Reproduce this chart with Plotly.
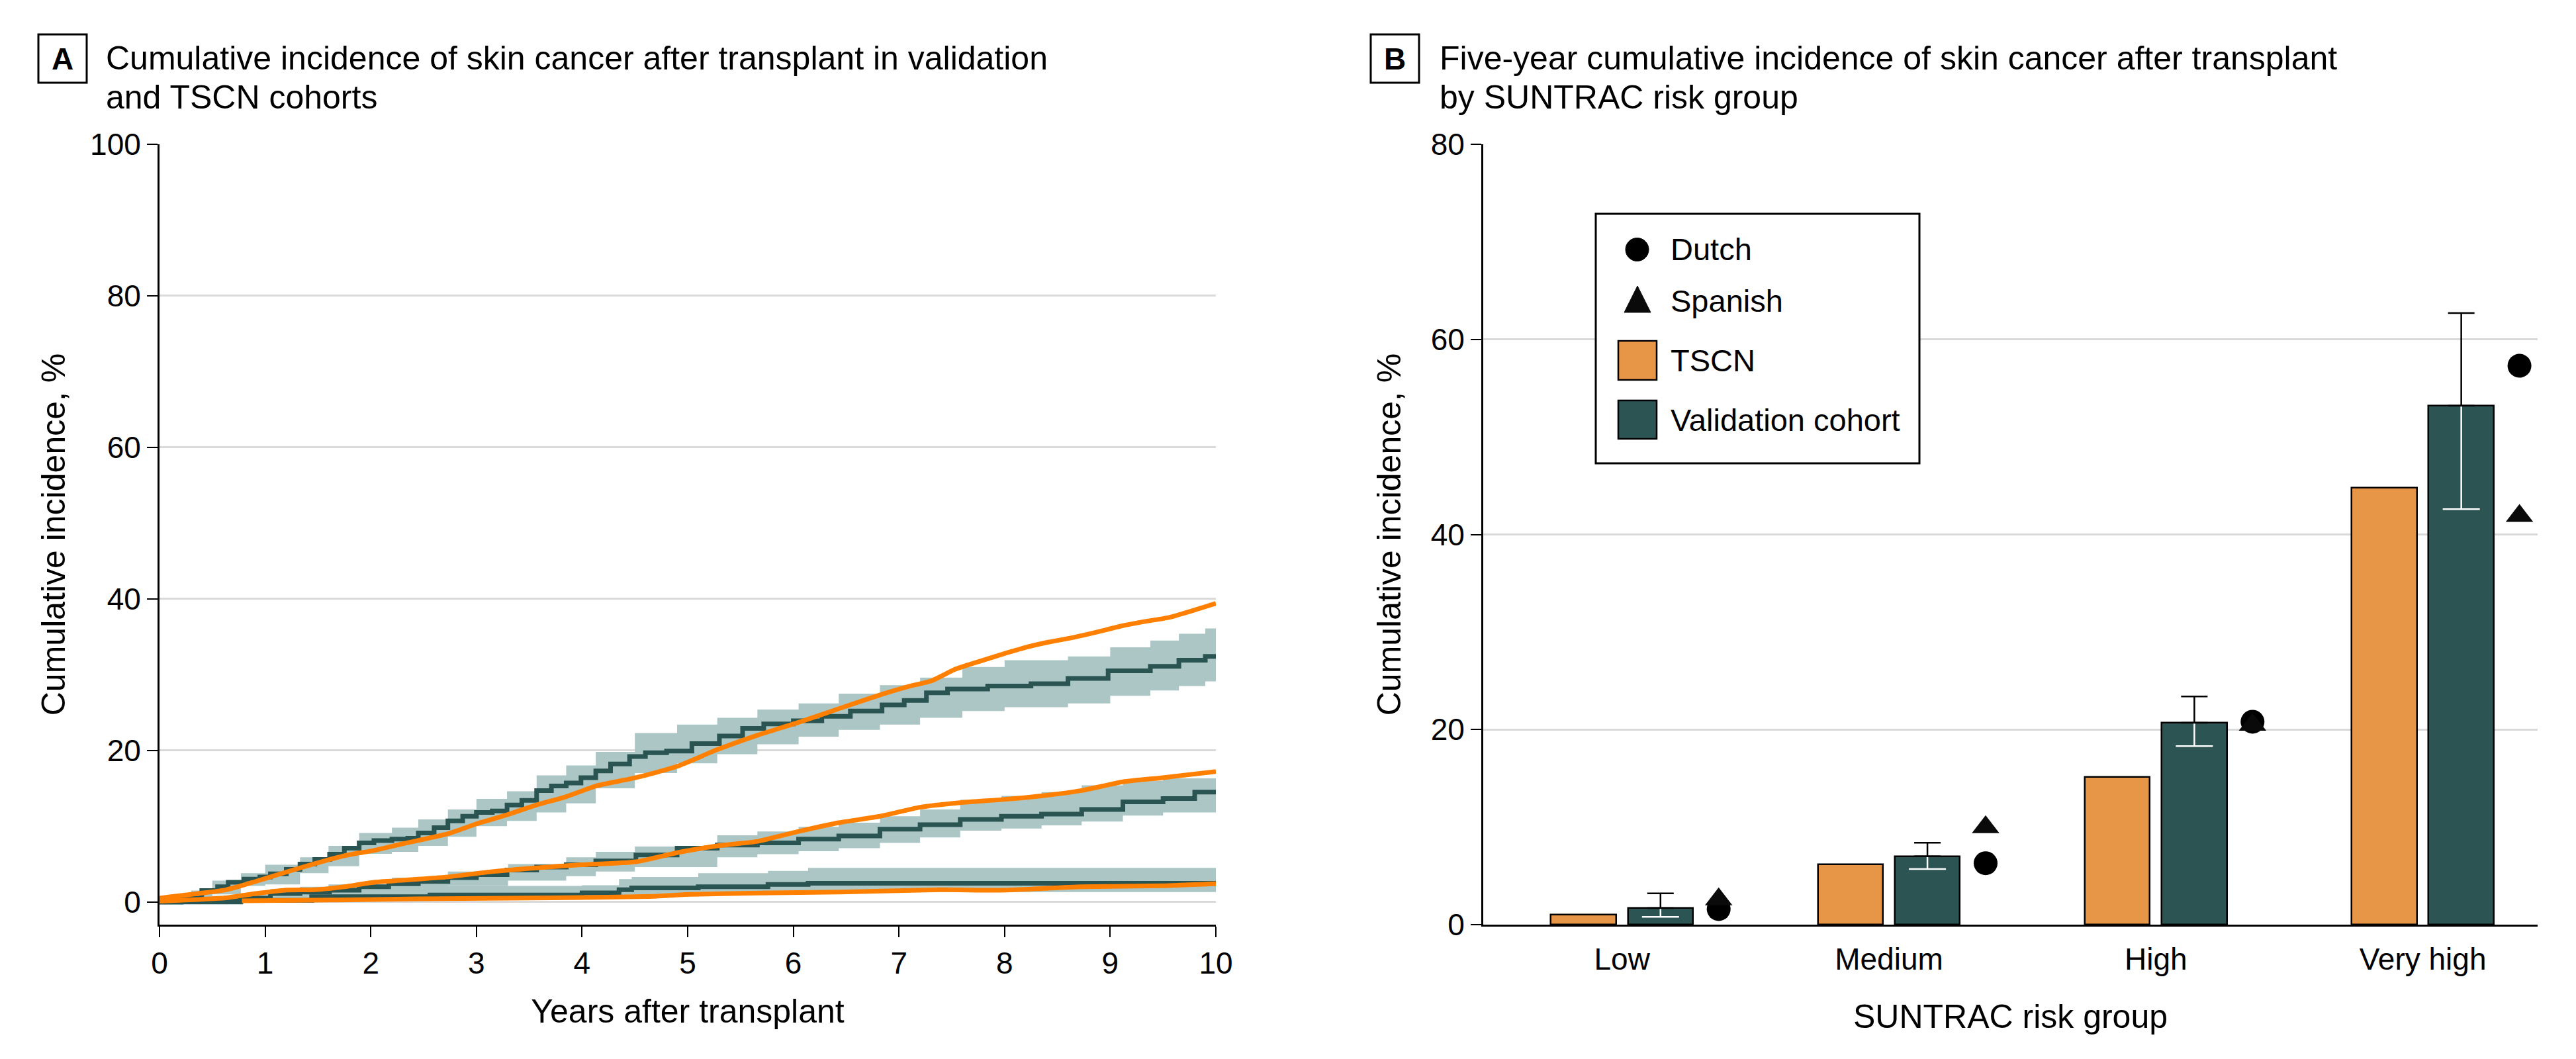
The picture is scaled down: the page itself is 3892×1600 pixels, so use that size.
import plotly.graph_objects as go

W, H = 3892, 1600
FONT = "Liberation Sans, Arial, sans-serif"

# ---------------- Panel A data (cumulative incidence, %) ----------------
# Validation cohort: upper curve (step estimate + 95% CI band)
val_top_t = [0, 0.2, 0.4, 0.55, 0.65, 0.8, 0.95, 1.05, 1.2, 1.33, 1.47, 1.61, 1.75, 1.89, 2.03, 2.2,
             2.35, 2.45, 2.6, 2.73, 2.87, 3.0, 3.15, 3.29, 3.43, 3.57, 3.71, 3.85, 3.99, 4.13, 4.27,
             4.45, 4.6, 4.8, 5.04, 5.3, 5.52, 5.72, 6.0, 6.27, 6.54, 6.84, 7.05, 7.26, 7.46, 7.84,
             8.25, 8.6, 8.98, 9.38, 9.65, 9.9, 10]
val_top_est = [0, 0.5, 1.5, 2.0, 2.6, 3.0, 3.3, 3.7, 4.3, 5.0, 5.6, 6.3, 7.1, 7.8, 8.1, 8.3,
               8.4, 9.1, 9.8, 10.7, 11.3, 11.8, 12.0, 12.8, 13.4, 14.7, 15.3, 15.7, 16.4, 17.3, 18.2,
               19.2, 19.7, 19.9, 20.9, 21.9, 22.9, 23.5, 23.9, 24.5, 25.2, 26.0, 26.6, 27.6, 28.1, 28.5,
               28.8, 29.5, 30.5, 31.1, 31.9, 32.4, 32.4]
val_top_ci_t = [0, 0.3, 0.5, 0.77, 1.0, 1.33, 1.6, 1.89, 2.2, 2.45, 2.73, 3.0, 3.29, 3.57, 3.85,
                4.13, 4.5, 4.9, 5.28, 5.66, 6.05, 6.43, 6.82, 7.2, 7.6, 8.0, 8.6, 9.0, 9.38, 9.65, 9.9, 10]
val_top_lo = [0, 0.3, 1.0, 2.1, 2.3, 3.8, 4.7, 6.35, 6.6, 7.4, 8.6, 10.0, 10.7, 11.8, 13.0,
              15.0, 17.0, 18.3, 19.5, 20.8, 21.8, 22.7, 23.4, 24.3, 25.2, 25.7, 26.2, 27.2, 27.9, 28.5, 29.1, 29.1]
val_top_hi = [0, 1.5, 2.8, 3.8, 4.9, 5.9, 7.4, 9.1, 9.8, 10.9, 12.2, 13.6, 14.6, 16.7, 18.0,
              19.8, 22.3, 23.4, 24.3, 25.4, 26.2, 27.5, 28.6, 29.6, 31.0, 31.9, 32.4, 33.6, 34.5, 35.4, 36.1, 36.1]

# Validation cohort: middle curve
val_mid_t = [0, 0.21, 0.63, 1.05, 1.33, 1.61, 1.89, 2.17, 2.45, 2.73, 3.0, 3.29, 3.57, 3.85, 4.13,
             4.51, 4.9, 5.28, 5.66, 6.05, 6.43, 6.82, 7.2, 7.58, 7.97, 8.35, 8.73, 9.12, 9.5, 9.8, 10]
val_mid_est = [0, 0.1, 0.5, 1.1, 1.3, 1.55, 2.0, 2.4, 2.7, 3.2, 3.6, 4.2, 4.6, 4.9, 5.4,
               6.2, 7.1, 7.5, 7.8, 8.3, 8.7, 9.6, 10.2, 10.9, 11.3, 11.6, 12.2, 13.2, 13.65, 14.5, 14.6]
val_mid_ci_t = [0, 0.5, 1.05, 1.6, 2.2, 2.73, 3.3, 3.85, 4.13, 4.5, 5.28, 5.66, 6.05, 6.43, 6.82,
                7.2, 7.58, 7.97, 8.35, 8.73, 9.12, 9.5, 10]
val_mid_lo = [0, 0.1, 0.5, 0.9, 1.4, 2.1, 2.8, 3.4, 4.0, 4.6, 5.9, 6.3, 6.7, 7.1, 7.8,
              8.5, 9.4, 9.7, 10.1, 10.6, 11.4, 11.8, 12.6]
val_mid_hi = [0, 0.8, 1.7, 2.3, 3.2, 4.0, 5.0, 5.9, 6.6, 7.3, 8.8, 9.3, 9.9, 10.45, 11.3,
              12.2, 13.5, 14.0, 14.5, 15.4, 16.0, 16.3, 16.8]

# Validation cohort: lower curve
val_low_t = [0, 0.77, 1.44, 2.56, 4.0, 4.35, 4.47, 5.1, 5.76, 6.14, 10]
val_low_est = [0, 0.2, 0.7, 0.9, 1.2, 1.6, 1.85, 2.0, 2.3, 2.45, 2.45]
val_low_ci_t = [0, 0.3, 0.77, 1.33, 2.56, 4.0, 4.35, 4.47, 5.1, 5.76, 6.14, 10]
val_low_lo = [0, 0, 0, 0.1, 0.3, 0.5, 0.7, 0.8, 0.9, 1.0, 1.3, 1.3]
val_low_hi = [0, 0.3, 1.0, 2.0, 2.1, 2.2, 3.0, 3.3, 3.8, 4.1, 4.5, 4.5]

# TSCN cohort curves (smooth)
tscn_top_t = [0, 0.3, 0.63, 0.91, 1.19, 1.47, 1.75, 2.03, 2.31, 2.73, 3.0, 3.29, 3.57, 3.85, 4.13,
              4.51, 4.9, 5.28, 5.66, 6.05, 6.43, 6.86, 7.08, 7.31, 7.53, 7.75, 7.98, 8.2, 8.42, 8.65,
              8.87, 9.1, 9.32, 9.54, 9.77, 10]
tscn_top = [0.5, 1.0, 1.6, 2.7, 3.9, 5.05, 6.1, 6.8, 7.7, 9.0, 10.3, 11.5, 12.8, 13.9, 15.3,
            16.4, 17.9, 20.1, 22.0, 23.7, 25.5, 27.5, 28.4, 29.2, 30.7, 31.7, 32.7, 33.6, 34.3, 34.9,
            35.6, 36.4, 37.0, 37.5, 38.4, 39.4]
tscn_mid_t = [0, 0.63, 0.91, 1.19, 1.47, 1.75, 2.03, 2.31, 2.73, 3.15, 3.57, 3.99, 4.51, 4.9, 5.28,
              5.66, 6.05, 6.43, 6.82, 7.2, 7.58, 7.97, 8.35, 8.73, 9.12, 9.5, 10]
tscn_mid = [0.1, 0.54, 1.1, 1.55, 1.6, 2.0, 2.6, 2.87, 3.3, 4.0, 4.5, 4.9, 5.3, 6.5, 7.4,
            8.0, 9.3, 10.45, 11.3, 12.5, 13.1, 13.5, 14.0, 14.7, 15.85, 16.4, 17.2]
tscn_low_t = [0.78, 1.61, 2.45, 3.29, 4.13, 4.71, 4.97, 5.67, 6.43, 7.39, 7.97, 8.73, 9.5, 10]
tscn_low = [0.15, 0.25, 0.4, 0.5, 0.6, 0.75, 0.97, 1.18, 1.3, 1.6, 1.55, 2.0, 2.14, 2.4]

# ---------------- Panel B data (five-year cumulative incidence, %) ----------------
risk_groups = ["Low", "Medium", "High", "Very high"]
tscn_5y = [1.0, 6.2, 15.1, 44.8]
val_5y = [1.7, 7.0, 20.7, 53.2]
val_5y_lo = [0.8, 5.7, 18.3, 42.6]
val_5y_hi = [3.2, 8.4, 23.4, 62.7]
dutch_5y = [1.6, 6.3, 20.8, 57.3]
spanish_5y = [2.6, 10.0, 20.5, 41.9]

# ---------------- styling ----------------
TEAL = "#2a5452"
BAND = "#abc6c5"
ORANGE_LINE = "#ff8000"
BAR_ORANGE = "#e69646"
BAR_TEAL = "#2b5453"
GRID = "#d9d9d9"

fig = go.Figure()

def add_band(t, lo, hi):
    fig.add_trace(go.Scatter(x=t, y=hi, mode="lines", line=dict(width=0, shape="hv"),
                             hoverinfo="skip", showlegend=False, xaxis="x", yaxis="y"))
    fig.add_trace(go.Scatter(x=t, y=lo, mode="lines", line=dict(width=0, shape="hv"),
                             fill="tonexty", fillcolor=BAND, hoverinfo="skip",
                             showlegend=False, xaxis="x", yaxis="y"))

add_band(val_top_ci_t, val_top_lo, val_top_hi)
add_band(val_mid_ci_t, val_mid_lo, val_mid_hi)
add_band(val_low_ci_t, val_low_lo, val_low_hi)

for t, v in [(val_low_t, val_low_est), (val_mid_t, val_mid_est), (val_top_t, val_top_est)]:
    fig.add_trace(go.Scatter(x=t, y=v, mode="lines", line=dict(color=TEAL, width=7, shape="hv"),
                             showlegend=False, xaxis="x", yaxis="y"))

for t, v in [(tscn_low_t, tscn_low), (tscn_mid_t, tscn_mid), (tscn_top_t, tscn_top)]:
    fig.add_trace(go.Scatter(x=t, y=v, mode="lines",
                             line=dict(color=ORANGE_LINE, width=7, shape="spline", smoothing=0.6),
                             showlegend=False, xaxis="x", yaxis="y"))

# Panel B bars
idx = list(range(len(risk_groups)))
BAR_W = 0.244
GAP = 0.022
fig.add_trace(go.Bar(x=idx, y=tscn_5y, width=BAR_W, offset=-(BAR_W + GAP), name="TSCN",
                     marker=dict(color=BAR_ORANGE, line=dict(color="black", width=2.5)),
                     showlegend=False, xaxis="x2", yaxis="y2"))
fig.add_trace(go.Bar(x=idx, y=val_5y, width=BAR_W, offset=GAP, name="Validation cohort",
                     marker=dict(color=BAR_TEAL, line=dict(color="black", width=2.5)),
                     showlegend=False, xaxis="x2", yaxis="y2"))

teal_x = [i + GAP + BAR_W / 2 for i in idx]
# lower part of CI (inside bar, white)
fig.add_trace(go.Scatter(
    x=teal_x, y=val_5y_lo, mode="markers",
    marker=dict(symbol="line-ew", size=40, color="white", line=dict(color="white", width=2.5)),
    error_y=dict(type="data", symmetric=False,
                 array=[v - l for v, l in zip(val_5y, val_5y_lo)],
                 arrayminus=[0] * len(idx), color="white", thickness=2.5, width=0),
    showlegend=False, hoverinfo="skip", xaxis="x2", yaxis="y2"))
# upper part of CI (black)
fig.add_trace(go.Scatter(
    x=teal_x, y=val_5y, mode="markers", marker=dict(color="rgba(0,0,0,0)", size=1),
    error_y=dict(type="data", symmetric=False,
                 array=[h - v for h, v in zip(val_5y_hi, val_5y)],
                 arrayminus=[0] * len(idx), color="black", thickness=2.5, width=20),
    showlegend=False, hoverinfo="skip", xaxis="x2", yaxis="y2"))

mark_x = [i + 0.362 for i in idx]
fig.add_trace(go.Scatter(x=mark_x, y=dutch_5y, mode="markers", name="Dutch",
                         marker=dict(symbol="circle", size=36, color="black"),
                         showlegend=False, xaxis="x2", yaxis="y2"))
fig.add_trace(go.Scatter(x=mark_x, y=spanish_5y, mode="markers", name="Spanish",
                         marker=dict(symbol="triangle-up", size=36, color="#0a0a0a"),
                         showlegend=False, xaxis="x2", yaxis="y2"))

# ---------------- layout ----------------
OFF = 8  # page body margin in the rendered html

def px(x):
    return (x - OFF) / W

def py(y):
    return 1 - (y - OFF) / H

ydom = [py(1397), py(218)]
axis_common = dict(showline=True, linecolor="black", linewidth=3, zeroline=False, automargin=False,
                   tickfont=dict(family=FONT, size=46, color="black"),
                   title_font=dict(family=FONT, size=50, color="black"))

fig.update_layout(
    width=W, height=H, margin=dict(l=0, r=0, t=0, b=0, pad=0, autoexpand=False),
    paper_bgcolor="white", plot_bgcolor="white", showlegend=False,
    font=dict(family=FONT, color="black"),
    bargap=0,
    xaxis=dict(domain=[px(241), px(1837)], range=[0, 10], dtick=1, tick0=0,
               ticks="outside", ticklen=16, tickwidth=2, tickcolor="black", showgrid=False,
               title=dict(text="Years after transplant", standoff=30), anchor="y", **axis_common),
    yaxis=dict(domain=ydom, range=[-3, 100], tickvals=[0, 20, 40, 60, 80, 100],
               ticks="outside", ticklen=16, tickwidth=2, tickcolor="black",
               showgrid=True, gridcolor=GRID, gridwidth=3,
               title=dict(text="Cumulative incidence, %", standoff=22), anchor="x", **axis_common),
    xaxis2=dict(domain=[px(2241), px(3834)], range=[-0.52, 3.43], tickvals=idx, ticktext=risk_groups,
                ticks="", showgrid=False, ticklabelstandoff=10,
                title=dict(text="SUNTRAC risk group", standoff=44), anchor="y2", **axis_common),
    yaxis2=dict(domain=ydom, range=[0, 80], tickvals=[0, 20, 40, 60, 80],
                ticks="outside", ticklen=16, tickwidth=2, tickcolor="black",
                showgrid=True, gridcolor=GRID, gridwidth=3,
                title=dict(text="Cumulative incidence, %", standoff=30), anchor="x2", **axis_common),
)

shapes = []
annotations = []

# Panel letters and titles
for (bx0, letter, tx, lines) in [
    (58, "A", 158, ["Cumulative incidence of skin cancer after transplant in validation", "and TSCN cohorts"]),
    (2071, "B", 2173, ["Five-year cumulative incidence of skin cancer after transplant", "by SUNTRAC risk group"]),
]:
    shapes.append(dict(type="rect", xref="paper", yref="paper",
                       x0=px(bx0), x1=px(bx0 + 73), y0=py(125), y1=py(52),
                       line=dict(color="black", width=3), fillcolor="white"))
    annotations.append(dict(xref="paper", yref="paper", x=px(bx0 + 36.5), y=py(89),
                            xanchor="center", yanchor="middle", showarrow=False, text=f"<b>{letter}</b>",
                            font=dict(family=FONT, size=46, color="black")))
    for k, line in enumerate(lines):
        annotations.append(dict(xref="paper", yref="paper", x=px(tx), y=py(88 + 59 * k),
                                xanchor="left", yanchor="middle", showarrow=False, text=line,
                                font=dict(family=FONT, size=50, color="black")))

# Manual legend for panel B
shapes.append(dict(type="rect", xref="paper", yref="paper",
                   x0=px(2411), x1=px(2900), y0=py(700), y1=py(323),
                   line=dict(color="black", width=3), fillcolor="white", layer="above"))
shapes.append(dict(type="circle", xref="paper", yref="paper",
                   x0=px(2456), x1=px(2491), y0=py(394.5), y1=py(359.5),
                   line=dict(color="black", width=1), fillcolor="black", layer="above"))
shapes.append(dict(type="path", xref="paper", yref="paper",
                   path=f"M {px(2454)} {py(472)} L {px(2494)} {py(472)} L {px(2474)} {py(432)} Z",
                   line=dict(color="#0a0a0a", width=1), fillcolor="#0a0a0a", layer="above"))
shapes.append(dict(type="rect", xref="paper", yref="paper",
                   x0=px(2445), x1=px(2503), y0=py(574), y1=py(515),
                   line=dict(color="black", width=2.5), fillcolor=BAR_ORANGE, layer="above"))
shapes.append(dict(type="rect", xref="paper", yref="paper",
                   x0=px(2445), x1=px(2503), y0=py(663), y1=py(605),
                   line=dict(color="black", width=2.5), fillcolor=BAR_TEAL, layer="above"))
for label, yc in [("Dutch", 377), ("Spanish", 455), ("TSCN", 544), ("Validation cohort", 634)]:
    annotations.append(dict(xref="paper", yref="paper", x=px(2522), y=py(yc),
                            xanchor="left", yanchor="middle", showarrow=False, text=label,
                            font=dict(family=FONT, size=47, color="black")))

fig.update_layout(shapes=shapes, annotations=annotations)

fig.write_html("out.html")
